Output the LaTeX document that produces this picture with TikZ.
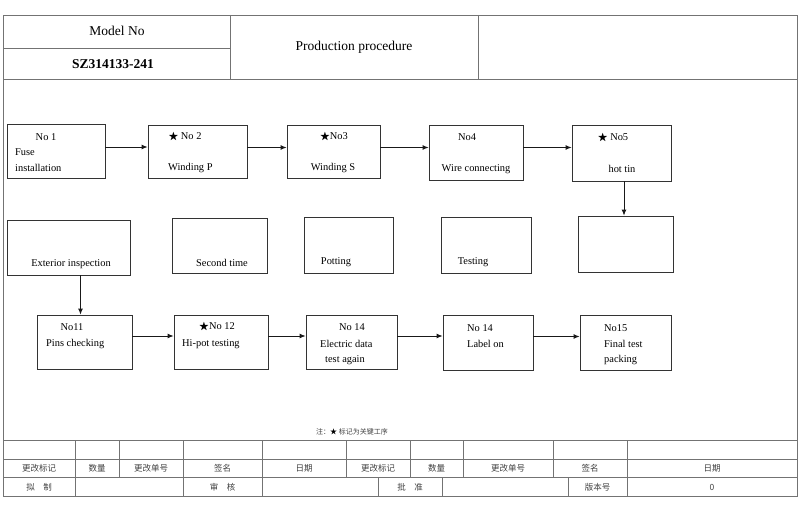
\documentclass[tikz,border=0pt]{standalone}
\usepackage{amssymb}
\usepackage{fontspec}
\setmainfont{Liberation Serif}
\newfontfamily\cjk{Noto Sans CJK SC}
\usetikzlibrary{arrows.meta}

\newcommand{\keystar}{$\bigstar$}

\begin{document}
\begin{tikzpicture}[x=1pt, y=-1pt,
	box/.style={draw=black!80, line width=0.8pt, inner sep=0pt},
	lbl/.style={inner sep=0pt, font=\fontsize{10.4}{12}\selectfont},
	head/.style={inner sep=0pt, font=\fontsize{13.5}{15}\selectfont},
	arr/.style={draw=black!90, line width=0.9pt, -{Latex[length=6pt,width=5pt]}},
	grid/.style={draw=black!55, line width=0.8pt},
	cn/.style={inner sep=0pt, text=black!75, font=\cjk\fontsize{8.5}{9}\selectfont}]
	\useasboundingbox (0,0) rectangle (800,511);

	% frame and header
	\draw [grid] (3,15) rectangle (797,496);
	\draw [grid] (3,79) -- (797,79);
	\draw [grid] (3,48) -- (230,48);
	\draw [grid] (230,15) -- (230,79);
	\draw [grid] (478,15) -- (478,79);
	\node [head] (model) at (117,31) {Model No};
	\node [head] (code) at (113,64) {\bfseries SZ314133-241};
	\node [head] (title) at (354,47) {Production procedure};

	% first row
	\node [box, minimum width=98pt, minimum height=54pt] (n1) at (56,151) {};
	\node [box, minimum width=99pt, minimum height=53pt] (n2) at (197.5,151.5) {};
	\node [box, minimum width=93pt, minimum height=53pt] (n3) at (333.5,151.5) {};
	\node [box, minimum width=94pt, minimum height=55pt] (n4) at (476,152.5) {};
	\node [box, minimum width=99pt, minimum height=56pt] (n5) at (621.5,153) {};

	\node [lbl] (n1a) at (46,137) {No 1};
	\node [lbl, anchor=west] (n1b) at (15,152) {Fuse};
	\node [lbl, anchor=west] (n1c) at (15,168) {installation};
	\node [lbl] (n2a) at (185,137) {\keystar\ No 2};
	\node [lbl, anchor=west] (n2b) at (168,168) {Winding P};
	\node [lbl] (n3a) at (334,137) {\keystar No3};
	\node [lbl] (n3b) at (333,168) {Winding S};
	\node [lbl] (n4a) at (467,137) {No4};
	\node [lbl] (n4b) at (476,169) {Wire connecting};
	\node [lbl] (n5a) at (613,138) {\keystar\ No5};
	\node [lbl] (n5b) at (622,169) {hot tin};

	% second row
	\node [box, minimum width=123pt, minimum height=55pt] (e1) at (68.5,247.5) {};
	\node [box, minimum width=95pt, minimum height=55pt] (e2) at (219.5,245.5) {};
	\node [box, minimum width=89pt, minimum height=56pt] (e3) at (348.5,245) {};
	\node [box, minimum width=90pt, minimum height=56pt] (e4) at (486,245) {};
	\node [box, minimum width=95pt, minimum height=56pt] (e5) at (625.5,244) {};

	\node [lbl] (e1a) at (71,264) {Exterior inspection};
	\node [lbl] (e2a) at (222,263) {Second time};
	\node [lbl] (e3a) at (336,262) {Potting};
	\node [lbl] (e4a) at (473,262) {Testing};

	% third row
	\node [box, minimum width=95pt, minimum height=54pt] (m1) at (84.5,342) {};
	\node [box, minimum width=94pt, minimum height=54pt] (m2) at (221,342) {};
	\node [box, minimum width=91pt, minimum height=54pt] (m3) at (351.5,342) {};
	\node [box, minimum width=90pt, minimum height=55pt] (m4) at (488,342.5) {};
	\node [box, minimum width=91pt, minimum height=55pt] (m5) at (625.5,342.5) {};

	\node [lbl] (m1a) at (72,327) {No11};
	\node [lbl, anchor=west] (m1b) at (46,344) {Pins checking};
	\node [lbl] (m2a) at (217,327) {\keystar No 12};
	\node [lbl, anchor=west] (m2b) at (182,344) {Hi-pot testing};
	\node [lbl] (m3a) at (352,327) {No 14};
	\node [lbl, anchor=west] (m3b) at (320,344) {Electric data};
	\node [lbl, anchor=west] (m3c) at (325,360) {test again};
	\node [lbl, anchor=west] (m4a) at (467,328) {No 14};
	\node [lbl, anchor=west] (m4b) at (467,344) {Label on};
	\node [lbl, anchor=west] (m5a) at (604,328) {No15};
	\node [lbl, anchor=west] (m5b) at (604,344) {Final test};
	\node [lbl, anchor=west] (m5c) at (604,360) {packing};

	% connectors
	\draw [arr] ([yshift=4pt]n1.east) -- ([yshift=4pt]n1.east -| n2.west);
	\draw [arr] ([yshift=4pt]n2.east) -- ([yshift=4pt]n2.east -| n3.west);
	\draw [arr] ([yshift=4pt]n3.east) -- ([yshift=4pt]n3.east -| n4.west);
	\draw [arr] ([yshift=5pt]n4.east) -- ([yshift=5pt]n4.east -| n5.west);
	\draw [arr] ([xshift=2.5pt]n5.south) -- ([xshift=2.5pt]n5.south |- e5.north);
	\draw [arr] ([xshift=12pt]e1.south) -- ([xshift=12pt]e1.south |- m1.north);
	\draw [arr] ([yshift=6pt]m1.east) -- ([yshift=6pt]m1.east -| m2.west);
	\draw [arr] ([yshift=6pt]m2.east) -- ([yshift=6pt]m2.east -| m3.west);
	\draw [arr] ([yshift=6pt]m3.east) -- ([yshift=6pt]m3.east -| m4.west);
	\draw [arr] ([yshift=6pt]m4.east) -- ([yshift=6pt]m4.east -| m5.west);

	% note
	\node [cn, font=\cjk\fontsize{7}{8}\selectfont] (note) at (352,432) {注：\textcolor{black}{★} 标记为关键工序};

	% bottom table
	\foreach \y in {440,459,477} \draw [grid] (3,\y) -- (797,\y);
	\foreach \x in {75,119,183,262,346,410,463,553,627} \draw [grid] (\x,440) -- (\x,477);
	\foreach \x in {75,183,262,378,442,568,627} \draw [grid] (\x,477) -- (\x,496);

	\node [cn] (t1) at (39,468) {更改标记};
	\node [cn] (t2) at (97,468) {数量};
	\node [cn] (t3) at (151,468) {更改单号};
	\node [cn] (t4) at (222.5,468) {签名};
	\node [cn] (t5) at (304,468) {日期};
	\node [cn] (t6) at (378,468) {更改标记};
	\node [cn] (t7) at (436.5,468) {数量};
	\node [cn] (t8) at (508,468) {更改单号};
	\node [cn] (t9) at (590,468) {签名};
	\node [cn] (t10) at (712,468) {日期};
	\node [cn] (b1) at (39,487) {拟\quad 制};
	\node [cn] (b2) at (222.5,487) {审\quad 核};
	\node [cn] (b3) at (410,487) {批\quad 准};
	\node [cn] (b4) at (597.5,487) {版本号};
	\node [cn] (b5) at (712,487) {0};
\end{tikzpicture}
\end{document}
